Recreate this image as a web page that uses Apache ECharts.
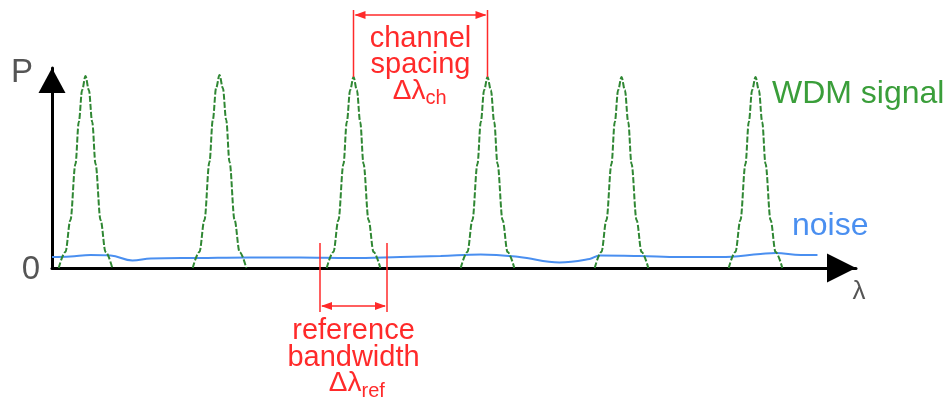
<!DOCTYPE html>
<html><head><meta charset="utf-8">
<script src="https://cdn.jsdelivr.net/npm/echarts@6/dist/echarts.min.js"></script>
<style>html,body{margin:0;padding:0;background:#fff}#c{width:950px;height:401px}</style>
</head><body><div id="c"></div>
<script>
// wavelength (nm, arbitrary) and power (P, arbitrary 0-100)
const channelCenters = [0.2, 1.0, 1.8, 2.6, 3.4, 4.2];
const signalPeak1 = [[0.04,0],[0.08,8],[0.11,24],[0.14,52],[0.16,73],[0.18,89],[0.2,96],[0.22,89],[0.24,73],[0.26,52],[0.29,24],[0.32,8],[0.36,0]];
const signalPeak2 = [[0.84,0],[0.88,8],[0.91,24],[0.94,53],[0.96,74],[0.98,90],[1.0,96.5],[1.02,90],[1.04,74],[1.06,53],[1.09,24],[1.12,8],[1.16,0]];
const signalPeak3 = [[1.64,0],[1.68,8],[1.71,24],[1.74,52],[1.76,73],[1.78,89],[1.8,95.5],[1.82,89],[1.84,73],[1.86,52],[1.89,24],[1.92,8],[1.96,0]];
const signalPeak4 = [[2.44,0],[2.48,8],[2.51,24],[2.54,52],[2.56,73],[2.58,89],[2.6,95.5],[2.62,89],[2.64,73],[2.66,52],[2.69,24],[2.72,8],[2.76,0]];
const signalPeak5 = [[3.24,0],[3.28,8],[3.31,24],[3.34,52],[3.36,73],[3.38,89],[3.4,95.5],[3.42,89],[3.44,73],[3.46,52],[3.49,24],[3.52,8],[3.56,0]];
const signalPeak6 = [[4.04,0],[4.08,8],[4.11,24],[4.14,52],[4.16,73],[4.18,89],[4.2,95.5],[4.22,89],[4.24,73],[4.26,52],[4.29,24],[4.32,8],[4.36,0]];
const noiseLambda = [0.0, 0.11, 0.23, 0.35, 0.48, 0.59, 0.88, 1.18, 1.48, 1.78, 2.08, 2.32, 2.56, 2.79, 3.03, 3.21, 3.27, 3.51, 3.75, 3.99, 4.23, 4.32, 4.47, 4.57];
const noisePower  = [5.5, 5.75, 6.5, 6.25, 3.75, 4.75, 5.0, 5.25, 5.25, 5.0, 5.5, 6.0, 6.75, 5.5, 2.75, 4.5, 6.25, 6.0, 5.5, 5.5, 7.0, 7.5, 6.5, 6.5];
const spacingPair = [1.8, 2.6];      // channels marked by "channel spacing"
const refBand = [1.6, 2.0];          // reference bandwidth edges
const xRange = [0, 4.8];
const yRange = [0, 100];

const FONT = 'Liberation Sans, Arial, sans-serif';
const RED = '#ff2a2a';
const GREEN_LINE = '#2f8733';
const chart = echarts.init(document.getElementById('c'), null, {renderer: 'canvas'});

const peaks = [signalPeak1, signalPeak2, signalPeak3, signalPeak4, signalPeak5, signalPeak6];
const series = peaks.map(p => ({
  type: 'line', data: p, smooth: 0.35, smoothMonotone: 'x', symbol: 'none', silent: true,
  lineStyle: {color: GREEN_LINE, width: 2, type: [6, 2]}, z: 3
}));
series.push({
  type: 'line', data: noiseLambda.map((l, i) => [l, noisePower[i]]), smooth: 0.4, symbol: 'none',
  lineStyle: {color: '#4a8ff0', width: 2}, z: 2
});

const axisLine = (sz) => ({
  show: true, symbol: ['none', 'triangle'], symbolSize: sz, symbolOffset: [0, -sz[1] / 2],
  lineStyle: {color: '#000', width: 3}
});

chart.setOption({
  animation: false,
  grid: {left: 52, right: 94, top: 68, bottom: 133},
  xAxis: {type: 'value', min: xRange[0], max: xRange[1], axisLine: axisLine([29, 29]),
          axisTick: {show: false}, axisLabel: {show: false}, splitLine: {show: false}},
  yAxis: {type: 'value', min: yRange[0], max: yRange[1], axisLine: axisLine([27, 25]),
          axisTick: {show: false}, axisLabel: {show: false}, splitLine: {show: false}},
  series: series
});

const px = (x, y) => chart.convertToPixel({gridIndex: 0}, [x, y]);
const g = [];
function vline(x, y1, y2) {
  g.push({type: 'line', shape: {x1: x, y1: y1, x2: x, y2: y2}, style: {stroke: RED, lineWidth: 1.5}, z: 10});
}
function darrow(xa, xb, y) {
  g.push({type: 'line', shape: {x1: xa + 2, y1: y, x2: xb - 2, y2: y}, style: {stroke: RED, lineWidth: 1.5}, z: 10});
  g.push({type: 'polygon', shape: {points: [[xa + 1, y], [xa + 12, y - 4], [xa + 12, y + 4]]}, style: {fill: RED}, z: 10});
  g.push({type: 'polygon', shape: {points: [[xb - 1, y], [xb - 12, y - 4], [xb - 12, y + 4]]}, style: {fill: RED}, z: 10});
}
function txt(s, x, y, size, color, align) {
  g.push({type: 'text', x: x, y: y, z: 11, style: {text: s, fill: color, font: size + 'px ' + FONT,
          align: align || 'center', verticalAlign: 'middle'}});
}
// channel spacing
const c3 = px(spacingPair[0], 95.5), c4 = px(spacingPair[1], 95.5);
vline(c3[0], 10, c3[1]);
vline(c4[0], 10, c4[1]);
darrow(c3[0], c4[0], 15);
const cm = (c3[0] + c4[0]) / 2;
txt('channel', cm, 39, 29, RED);
txt('spacing', cm, 65, 29, RED);
txt('Δλ', cm + 5, 91, 28, RED, 'right');
txt('ch', cm + 5, 98, 20, RED, 'left');
// reference bandwidth
const r1 = px(refBand[0], 0), r2 = px(refBand[1], 0);
vline(r1[0], 243, 312);
vline(r2[0], 243, 312);
darrow(r1[0], r2[0], 306);
const rm = (r1[0] + r2[0]) / 2;
txt('reference', rm, 331, 29, RED);
txt('bandwidth', rm, 358, 29, RED);
txt('Δλ', rm + 8, 383, 28, RED, 'right');
txt('ref', rm + 8, 391, 20, RED, 'left');
// axis labels and legends
txt('P', 22, 73, 33, '#555');
txt('0', 31, 270, 33, '#555');
txt('λ', 859, 292, 26, '#555');
txt('WDM signal', 772, 94, 32, '#3a9e3a', 'left');
txt('noise', 792, 226, 32, '#4a8ff0', 'left');

chart.setOption({graphic: {elements: g}});
</script></body></html>
